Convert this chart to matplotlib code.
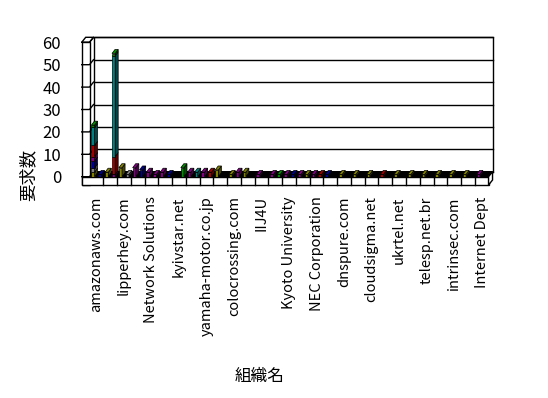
import matplotlib
matplotlib.use('Agg')
import matplotlib.pyplot as plt
from matplotlib.patches import Polygon
import matplotlib.colors as mcolors
import numpy as np

plt.rcParams['font.family'] = ['Noto Sans CJK JP', 'DejaVu Sans']

# 組織ごとの要求数 (58 organizations, every 4th labelled)
tick_labels = [
    "amazonaws.com", "lipperhey.com", "Network Solutions", "kyivstar.net",
    "yamaha-motor.co.jp", "colocrossing.com", "IIJ4U", "Kyoto University",
    "NEC Corporation", "dnspure.com", "cloudsigma.net", "ukrtel.net",
    "telesp.net.br", "intrinsec.com", "Internet Dept",
]
label_step = 4

olive = [2, 0, 2, 0, 4, 0, 0, 0, 0, 0,  0, 0, 0, 0, 0, 0, 0, 0, 3, 0,
         1, 0, 2, 0, 0, 0, 0, 0, 0, 0,  0, 1, 0, 0, 0, 0, 1, 0, 1, 0,
         1, 0, 0, 0, 1, 0, 1, 0, 1, 0,  1, 0, 1, 0, 1, 0, 0, 0]
gray = [2, 0, 0, 0, 0, 1, 0, 0, 0, 0,  0, 0, 0, 0, 0, 0, 0, 0, 0, 0,
        0, 0, 0, 0, 0, 0, 0, 0, 0, 0,  0, 0, 0, 0, 0, 0, 0, 0, 0, 0,
        0, 0, 0, 0, 0, 0, 0, 0, 0, 0,  0, 0, 0, 0, 0, 0, 0, 0]
navy = [3, 1, 0, 0, 0, 0, 0, 3, 0, 0,  0, 1, 0, 0, 0, 0, 0, 0, 0, 0,
        0, 0, 0, 0, 0, 0, 0, 0, 0, 1,  0, 0, 0, 0, 1, 0, 0, 0, 0, 0,
        0, 0, 0, 0, 0, 0, 0, 0, 0, 0,  0, 0, 0, 0, 0, 0, 0, 0]
purple = [2, 0, 0, 1, 0, 0, 4, 0, 2, 1,  2, 0, 0, 0, 2, 0, 2, 0, 0, 0,
          0, 2, 0, 0, 1, 0, 1, 0, 1, 0,  1, 0, 1, 0, 0, 0, 0, 0, 0, 0,
          0, 0, 0, 0, 0, 0, 0, 0, 0, 0,  0, 0, 0, 0, 0, 0, 1, 0]
maroon = [5, 0, 0, 8, 0, 0, 0, 0, 0, 0,  0, 0, 0, 0, 0, 0, 0, 2, 0, 0,
          0, 0, 0, 0, 0, 0, 0, 0, 0, 0,  0, 0, 0, 1, 0, 0, 0, 0, 0, 0,
          0, 0, 1, 0, 0, 0, 0, 0, 0, 0,  0, 0, 0, 0, 0, 0, 0, 0]
teal = [8, 0, 0, 45, 0, 0, 0, 0, 0, 0,  0, 0, 0, 0, 0, 2, 0, 0, 0, 0,
        0, 0, 0, 0, 0, 0, 0, 0, 0, 0,  0, 0, 0, 0, 0, 0, 0, 0, 0, 0,
        0, 0, 0, 0, 0, 0, 0, 0, 0, 0,  0, 0, 0, 0, 0, 0, 0, 0]
green = [1, 0, 0, 1, 0, 0, 0, 0, 0, 0,  0, 0, 0, 4, 0, 0, 0, 0, 0, 0,
         0, 0, 0, 0, 0, 0, 0, 1, 0, 0,  0, 0, 0, 0, 0, 0, 0, 0, 0, 0,
         0, 0, 0, 0, 0, 0, 0, 0, 0, 0,  0, 0, 0, 0, 0, 0, 0, 0]

series = [olive, gray, navy, purple, maroon, teal, green]
colors = ['#808000', '#808080', '#000090', '#800080', '#a00000', '#008080', '#008c00']

n = len(olive)
ymax = 60

# pixel geometry of the fake 3D box
PX, PY = 6.88, 2.24          # pixels per slot / per unit
DX, DY = 4 / PX, 5 / PY      # wall depth
SLAB_W = 7.8 / PX            # y-axis slab width
SLAB_H = 8.3 / PY            # x-axis slab height
BW = 3.2 / PX                # bar front width
BDX, BDY = 3 / PX, 4 / PY    # bar depth

W, H = 548, 398
fig = plt.figure(figsize=(W / 100, H / 100), dpi=100)
x_left, x_right = 89.5, 89.5 + n * PX
y_zero, y_top = 176.7, 176.7 - ymax * PY
ax = fig.add_axes([x_left / W, 1 - y_zero / H, (x_right - x_left) / W, (y_zero - y_top) / H])
ax.set_xlim(-0.5, n - 0.5)
ax.set_ylim(0, ymax)
ax.patch.set_visible(False)
for s in ax.spines.values():
    s.set_visible(False)

L, R = -0.5, n - 0.5
lw = 1.0

def poly(pts, fc, ec='black', z=1, lw_=lw):
    ax.add_patch(Polygon(pts, closed=True, facecolor=fc, edgecolor=ec, linewidth=lw_,
                         zorder=z, clip_on=False, joinstyle='miter'))

# back wall + grid
poly([(L + DX, DY), (R + DX, DY), (R + DX, ymax + DY), (L + DX, ymax + DY)], 'white', z=0.5)
for t in range(0, ymax + 1, 10):
    ax.plot([L + DX, R + DX], [t + DY, t + DY], color='black', lw=lw, zorder=0.6, clip_on=False)

# floor
poly([(L, 0), (R, 0), (R + DX, DY), (L + DX, DY)], 'black', z=0.7)

# y-axis slab
poly([(L - SLAB_W, -SLAB_H), (L, -SLAB_H), (L, ymax), (L - SLAB_W, ymax)], 'white', z=2)
poly([(L - SLAB_W, ymax), (L, ymax), (L + DX, ymax + DY), (L - SLAB_W + DX, ymax + DY)], 'white', z=2)
for t in range(0, ymax + 1, 10):
    ax.plot([L - SLAB_W, L, L + DX], [t, t, t + DY], color='black', lw=lw, zorder=2.1, clip_on=False)

# x-axis slab with cells every two slots
poly([(L - SLAB_W, -SLAB_H), (R, -SLAB_H), (R, 0), (L - SLAB_W, 0)], 'white', z=2)
poly([(R, -SLAB_H), (R + DX, -SLAB_H + DY), (R + DX, DY), (R, 0)], 'white', z=2)
for xb in np.arange(1.5, n - 1, 2):
    ax.plot([xb, xb], [-SLAB_H, 0], color='black', lw=lw, zorder=2.1, clip_on=False)

# stacked bars with side and top faces
x = np.arange(n)
bottom = np.zeros(n)
totals = np.sum(series, axis=0)
for vals, c in zip(series, colors):
    vals = np.array(vals, dtype=float)
    idx = np.nonzero(vals)[0]
    dark = tuple(v * 0.55 for v in mcolors.to_rgb(c))
    ax.bar(x[idx], vals[idx], bottom=bottom[idx], width=BW, color=c,
           edgecolor='black', linewidth=0.5, zorder=3)
    for i in idx:
        x1 = i + BW / 2
        b, tp = bottom[i], bottom[i] + vals[i]
        poly([(x1, b), (x1 + BDX, b + BDY), (x1 + BDX, tp + BDY), (x1, tp)], dark, z=3, lw_=0.5)
        if abs(tp - totals[i]) < 1e-9:
            x0 = i - BW / 2
            poly([(x0, tp), (x1, tp), (x1 + BDX, tp + BDY), (x0 + BDX, tp + BDY)], c, z=3, lw_=0.5)
    bottom += vals

ax.set_yticks(range(0, ymax + 1, 10))
ax.tick_params(axis='y', length=0, pad=20.5, labelsize=12)
ax.set_xticks(np.arange(0, n, label_step) + 0.5)
ax.set_xticklabels(tick_labels, rotation=90, fontsize=10.5)
ax.tick_params(axis='x', length=0, pad=14)

fig.text(260 / W, 1 - 376 / H, "組織名", ha='center', va='center', fontsize=12)
fig.text(28 / W, 1 - 175 / H, "要求数", ha='center', va='center', rotation=90, fontsize=12.5)

fig.savefig('out.png', dpi=100)
